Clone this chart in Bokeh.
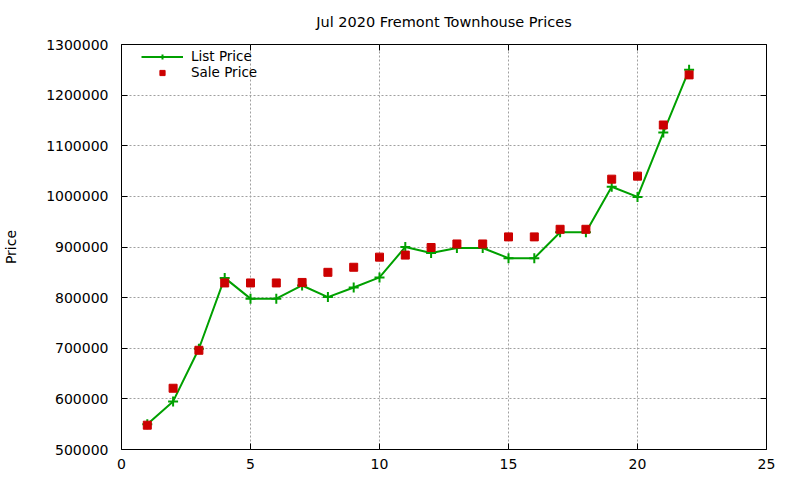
from bokeh.plotting import figure
from bokeh.models import (Range1d, LinearAxis, SingleIntervalTicker, BasicTickFormatter,
                          CustomJSTickFormatter, Legend, LegendItem)
from bokeh.embed import file_html
from bokeh.resources import INLINE

# ---- data ----
day = list(range(1, 23))
list_price = [550000, 595000, 699000, 839000, 798000, 798000, 824000, 801000, 820000, 840000,
              900000, 888000, 898000, 898000, 878000, 878000, 929000, 929000, 1019000, 999000,
              1126000, 1250000]
sale_price = [548000, 621000, 696000, 829000, 829000, 829000, 830000, 850000, 860000, 880000,
              884000, 899000, 906000, 906000, 920000, 920000, 935000, 935000, 1034000, 1040000,
              1141000, 1240000]

title_text = "Jul 2020 Fremont Townhouse Prices"
y_label = "Price"
series_names = ["List Price", "Sale Price"]

FONT = "DejaVu Sans"
GREEN = "#00a000"
RED = "#cc0000"

p = figure(width=800, height=480, output_backend="svg", toolbar_location=None,
           x_range=Range1d(0, 25), y_range=Range1d(500000, 1300000),
           min_border_left=120, min_border_right=34, min_border_top=44, min_border_bottom=31,
           background_fill_color="white", border_fill_color="white")

p.title.text = title_text
p.title.align = "center"
p.title.text_font = FONT
p.title.text_font_size = "14.5px"
p.title.text_font_style = "normal"
p.title.text_color = "black"
p.title.standoff = 22

p.outline_line_color = "black"
p.outline_line_width = 1

xt = SingleIntervalTicker(interval=5)
yt = SingleIntervalTicker(interval=100000)

for ax in (p.xaxis[0], p.yaxis[0]):
    ax.axis_line_color = None
    ax.major_tick_in = 6
    ax.major_tick_out = 0
    ax.minor_tick_line_color = None
    ax.major_tick_line_color = "black"
    ax.major_label_text_font = FONT
    ax.major_label_text_font_size = "14px"
    ax.major_label_text_color = "black"

p.xaxis[0].ticker = xt
p.yaxis[0].ticker = yt
p.yaxis[0].formatter = BasicTickFormatter(use_scientific=False)
p.xaxis[0].major_label_standoff = 5
p.yaxis[0].major_label_standoff = 9
p.yaxis[0].axis_label = y_label
p.yaxis[0].axis_label_text_font = FONT
p.yaxis[0].axis_label_text_font_size = "14px"
p.yaxis[0].axis_label_text_font_style = "normal"
p.yaxis[0].axis_label_text_color = "black"
p.yaxis[0].axis_label_standoff = 24

# mirrored tick axes (no labels)
blank = CustomJSTickFormatter(code="return ''")
top = LinearAxis(ticker=SingleIntervalTicker(interval=5), axis_line_color=None,
                 major_tick_in=6, major_tick_out=0, minor_tick_line_color=None,
                 formatter=blank, major_label_standoff=0)
right = LinearAxis(ticker=SingleIntervalTicker(interval=100000), axis_line_color=None,
                   major_tick_in=6, major_tick_out=0, minor_tick_line_color=None,
                   formatter=blank, major_label_standoff=0)
p.add_layout(top, "above")
p.add_layout(right, "right")

p.xgrid.ticker = xt
p.ygrid.ticker = yt
for g in (p.xgrid[0], p.ygrid[0]):
    g.grid_line_color = "#a0a0a0"
    g.grid_line_dash = "2 2"
    g.grid_line_width = 1

l_line = p.line(day, list_price, line_color=GREEN, line_width=2)
l_pts = p.scatter(day, list_price, marker="cross", size=10, line_color=GREEN, line_width=2)
s_pts = p.scatter(day, sale_price, marker="square", size=8, fill_color=RED, line_color=RED)

legend = Legend(items=[LegendItem(label=series_names[0], renderers=[l_line, l_pts]),
                       LegendItem(label=series_names[1], renderers=[s_pts])],
                background_fill_alpha=0, border_line_color=None,
                label_text_font=FONT, label_text_font_size="13.5px", label_text_color="black",
                glyph_width=42, glyph_height=13, label_height=13, spacing=0, padding=4,
                label_standoff=8, margin=0)
p.add_layout(legend, "center")
legend.location = (20, 405 - 36)

with open("out.html", "w") as f:
    f.write(file_html(p, INLINE))
